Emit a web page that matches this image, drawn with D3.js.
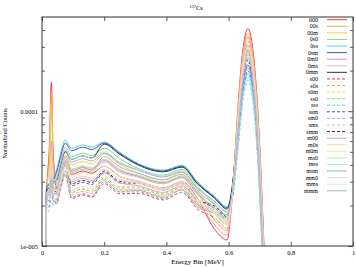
<!DOCTYPE html>
<html>
<head>
<meta charset="utf-8">
<script src="https://cdn.jsdelivr.net/npm/d3@7"></script>
<style>
body { margin: 0; background: #fff; }
text { font-family: "Liberation Serif", "DejaVu Serif", serif; fill: #000; }
</style>
</head>
<body>
<svg id="chart" width="356" height="267"></svg>
<script>
// energy bins [MeV]
var energy = [0.010, 0.015, 0.024, 0.030, 0.036, 0.048, 0.060, 0.075, 0.095, 0.130, 0.160, 0.200, 0.250, 0.310,
              0.390, 0.450, 0.500, 0.555, 0.595, 0.617, 0.632, 0.647, 0.662, 0.677, 0.692, 0.707, 0.717, 0.727];

// normalized counts, in units of 1e-5
var c000 = [0.5, 2.3, 5.7, 16.4, 4.9, 2.67, 3.44, 4.3, 3.4, 3.6, 3.47, 3.9, 3.28, 3.02, 2.7, 3.0, 2.25, 1.33, 1.11, 3.57, 12.4, 29.9, 41, 29.9, 11.9, 2.46, 0.62, 0.1];
var c00s = [0.5, 2.4, 4.9, 14, 4.2, 2.91, 3.76, 4.7, 3.7, 3.92, 3.77, 4.4, 3.7, 3.25, 2.9, 3.3, 2.48, 1.56, 1.3, 3.58, 11.7, 27.7, 38, 27.7, 11.0, 2.28, 0.57, 0.1];
var c00m = [0.5, 2.5, 4.0, 11.5, 3.45, 3.1, 4.0, 5.0, 4.0, 4.24, 4.08, 4.8, 4.03, 3.47, 3.1, 3.5, 2.63, 1.74, 1.45, 3.55, 10.9, 25.6, 35, 25.6, 10.2, 2.1, 0.53, 0.1];
var c0s0 = [0.5, 2.7, 2.84, 3.4, 3.1, 3.35, 4.32, 5.4, 4.6, 4.88, 4.69, 5.3, 4.45, 3.75, 3.35, 3.7, 2.78, 2.04, 1.7, 3.44, 9.26, 21.2, 29, 21.2, 8.4, 1.74, 0.44, 0.1];
var c0ss = [0.5, 2.8, 2.94, 3.3, 3.22, 3.78, 4.88, 6.1, 5.3, 5.62, 5.41, 5.9, 4.96, 4.09, 3.65, 3.98, 2.99, 2.34, 1.95, 3.09, 6.49, 13.9, 19, 13.9, 5.51, 1.14, 0.29, 0.1];
var c0sm = [0.5, 2.75, 2.89, 3.2, 3.16, 3.6, 4.64, 5.8, 5.1, 5.41, 5.2, 5.8, 4.87, 4.03, 3.6, 3.9, 2.93, 2.3, 1.92, 3.24, 7.34, 16.1, 22, 16.1, 6.38, 1.32, 0.33, 0.1];
var c0m0 = [0.5, 2.3, 2.42, 4.1, 2.65, 2.79, 3.6, 4.5, 3.6, 3.82, 3.67, 4.3, 3.61, 3.3, 2.95, 3.25, 2.44, 1.86, 1.55, 3.41, 9.77, 22.6, 31, 22.6, 8.99, 1.86, 0.47, 0.1];
var c0ms = [0.5, 2.4, 2.52, 3.0, 2.76, 2.6, 3.36, 4.2, 3.5, 3.71, 3.57, 4.2, 3.53, 3.25, 2.9, 3.2, 2.4, 1.92, 1.6, 3.22, 8.63, 19.7, 27, 19.7, 7.83, 1.62, 0.41, 0.1];
var c0mm = [0.5, 2.6, 2.73, 3.3, 2.99, 3.1, 4.0, 5.0, 4.4, 4.66, 4.49, 5.7, 4.79, 3.98, 3.55, 3.85, 2.89, 2.26, 1.88, 3.56, 9.06, 20.4, 28, 20.4, 8.12, 1.68, 0.42, 0.1];
var cs00 = [0.5, 1.9, 2.0, 3.0, 2.19, 2.11, 2.72, 3.4, 2.25, 2.39, 2.3, 2.9, 2.44, 2.46, 2.2, 2.5, 1.88, 1.62, 1.35, 3.33, 10.3, 24.1, 33, 24.1, 9.57, 1.98, 0.5, 0.1];
var cs0s = [0.5, 2.0, 2.1, 3.0, 2.3, 2.23, 2.88, 3.6, 2.4, 2.54, 2.45, 3.1, 2.6, 2.58, 2.3, 2.6, 1.95, 1.74, 1.45, 3.25, 9.43, 21.9, 30, 21.9, 8.7, 1.8, 0.45, 0.1];
var cs0m = [0.5, 2.1, 2.21, 3.1, 2.42, 2.36, 3.04, 3.8, 2.6, 2.76, 2.65, 3.3, 2.77, 2.74, 2.45, 2.75, 2.06, 1.8, 1.5, 3.18, 8.87, 20.4, 28, 20.4, 8.12, 1.68, 0.42, 0.1];
var css0 = [0.5, 2.0, 2.1, 2.9, 2.3, 2.23, 2.88, 3.6, 2.5, 2.65, 2.55, 3.2, 2.69, 2.69, 2.4, 2.7, 2.03, 1.86, 1.55, 2.99, 7.74, 17.5, 24, 17.5, 6.96, 1.44, 0.36, 0.1];
var csss = [0.5, 1.75, 1.84, 2.6, 2.01, 2.17, 2.8, 3.5, 2.3, 2.44, 2.35, 3.0, 2.52, 2.52, 2.25, 2.5, 2.0, 1.75, 1.6, 2.62, 5.73, 12.4, 17, 12.4, 4.93, 1.02, 0.26, 0.1];
var cssm = [0.5, 2.1, 2.21, 3.0, 2.42, 2.48, 3.2, 4.0, 2.8, 2.97, 2.86, 3.5, 2.94, 2.91, 2.6, 2.9, 2.18, 1.92, 1.6, 2.8, 6.6, 14.6, 20, 14.6, 5.8, 1.2, 0.3, 0.1];
var csm0 = [0.5, 1.9, 2.0, 2.9, 2.19, 2.05, 2.64, 3.3, 2.3, 2.44, 2.35, 3.0, 2.52, 2.58, 2.3, 2.6, 1.95, 1.74, 1.45, 3.01, 8.27, 19.0, 26, 19.0, 7.54, 1.56, 0.39, 0.1];
var csms = [0.5, 2.0, 2.1, 2.9, 2.3, 2.17, 2.8, 3.5, 2.5, 2.65, 2.55, 3.1, 2.6, 2.63, 2.35, 2.65, 1.99, 1.8, 1.5, 2.88, 7.42, 16.8, 23, 16.8, 6.67, 1.38, 0.35, 0.1];
var csmm = [0.5, 2.2, 2.31, 3.2, 2.53, 2.54, 3.28, 4.1, 2.9, 3.07, 2.96, 3.6, 3.02, 2.97, 2.65, 2.95, 2.21, 1.98, 1.65, 3.09, 7.79, 17.5, 24, 17.5, 6.96, 1.44, 0.36, 0.1];
var cm00 = [0.5, 2.2, 2.6, 6.0, 2.7, 2.42, 3.12, 3.9, 3.0, 3.18, 3.06, 3.5, 2.94, 2.8, 2.5, 2.8, 2.1, 1.44, 1.2, 3.36, 11.0, 26.3, 36, 26.3, 10.4, 2.16, 0.54, 0.1];
var cm0s = [0.5, 2.3, 2.6, 5.0, 2.7, 2.54, 3.28, 4.1, 3.1, 3.29, 3.16, 3.7, 3.11, 2.91, 2.6, 2.9, 2.18, 1.62, 1.35, 3.33, 10.3, 24.1, 33, 24.1, 9.57, 1.98, 0.5, 0.1];
var cm0m = [0.5, 2.3, 2.5, 4.2, 2.65, 2.67, 3.44, 4.3, 3.3, 3.5, 3.37, 3.9, 3.28, 3.02, 2.7, 3.0, 2.25, 1.74, 1.45, 3.25, 9.43, 21.9, 30, 21.9, 8.7, 1.8, 0.45, 0.1];
var cms0 = [0.5, 2.4, 2.52, 3.3, 2.76, 2.85, 3.68, 4.6, 3.7, 3.92, 3.77, 4.4, 3.7, 3.36, 3.0, 3.3, 2.48, 1.92, 1.6, 3.16, 8.34, 19.0, 26, 19.0, 7.54, 1.56, 0.39, 0.1];
var cmss = [0.5, 2.5, 2.63, 3.2, 2.88, 3.29, 4.24, 5.3, 4.4, 4.66, 4.49, 5.0, 4.2, 3.7, 3.3, 3.6, 2.7, 2.16, 1.8, 2.88, 6.12, 13.1, 18, 13.1, 5.22, 1.08, 0.27, 0.1];
var cmsm = [0.5, 2.5, 2.63, 3.2, 2.88, 3.16, 4.08, 5.1, 4.2, 4.45, 4.28, 4.9, 4.12, 3.64, 3.25, 3.55, 2.66, 2.14, 1.78, 3.04, 6.98, 15.3, 21, 15.3, 6.09, 1.26, 0.32, 0.1];
var cmm0 = [0.5, 2.1, 2.21, 3.8, 2.42, 2.42, 3.12, 3.9, 3.1, 3.29, 3.16, 3.7, 3.11, 2.97, 2.65, 2.95, 2.21, 1.8, 1.5, 3.18, 8.87, 20.4, 28, 20.4, 8.12, 1.68, 0.42, 0.1];
var cmms = [0.5, 2.2, 2.31, 3.0, 2.53, 2.36, 3.04, 3.8, 3.1, 3.29, 3.16, 3.7, 3.11, 2.97, 2.65, 2.95, 2.21, 1.86, 1.55, 3.05, 8.03, 18.3, 25, 18.3, 7.25, 1.5, 0.38, 0.1];
var cmmm = [0.5, 2.3, 2.42, 3.1, 2.65, 2.67, 3.44, 4.3, 3.6, 3.82, 3.67, 4.6, 3.86, 3.47, 3.1, 3.4, 2.55, 2.04, 1.7, 3.2, 8.1, 18.3, 25, 18.3, 7.25, 1.5, 0.38, 0.1];

var names = ["000","00s","00m","0s0","0ss","0sm","0m0","0ms","0mm",
             "s00","s0s","s0m","ss0","sss","ssm","sm0","sms","smm",
             "m00","m0s","m0m","ms0","mss","msm","mm0","mms","mmm"];
var counts = [c000,c00s,c00m,c0s0,c0ss,c0sm,c0m0,c0ms,c0mm,
              cs00,cs0s,cs0m,css0,csss,cssm,csm0,csms,csmm,
              cm00,cm0s,cm0m,cms0,cmss,cmsm,cmm0,cmms,cmmm];

var xTicks = [0, 0.2, 0.4, 0.6, 0.8, 1];
var yTicks = [1e-5, 1e-4];
var yTickLabels = ["1e-005", "0.0001"];
var yMinor = [2e-5,3e-5,4e-5,5e-5,6e-5,7e-5,8e-5,9e-5,2e-4,3e-4,4e-4];

var brightCols = ["#e43f4c","#f4a64c","#eed14c","#80d880","#4cd6df","#4a4ec6","#d98ad9","#c6c6c6","#333333"];
var paleCols   = ["#eaa0b6","#fbd6a6","#f6eaa6","#b4eab4","#a6ecef","#a8a8e2","#efc6ef","#e2e2e2","#b6b6b6"];

var W = 356, H = 267;
var m = {left: 42, right: 353, top: 17, bottom: 246};

var svg = d3.select('#chart');

var x = d3.scaleLinear().domain([0, 1]).range([m.left, m.right]);
var y = d3.scaleLog().domain([1e-5, 5e-4]).range([m.bottom, m.top]);

svg.append('defs').append('clipPath').attr('id', 'plotclip')
  .append('rect')
  .attr('x', m.left).attr('y', m.top)
  .attr('width', m.right - m.left).attr('height', m.bottom - m.top);

var line = d3.line()
  .x(function(d){ return x(d[0]); })
  .y(function(d){ return y(d[1] * 1e-5); })
  .curve(d3.curveMonotoneX);

var styleOf = function(i){
  var g = Math.floor(i / 9), k = i % 9;
  return {
    color: g === 2 ? paleCols[k] : brightCols[k],
    dash: g === 1 ? '3,2' : null
  };
};

var plot = svg.append('g').attr('clip-path', 'url(#plotclip)');
names.forEach(function(n, i){
  var st = styleOf(i);
  var pts = energy.map(function(e, j){ return [e, counts[i][j]]; });
  plot.append('path')
    .attr('d', line(pts))
    .attr('fill', 'none')
    .attr('stroke', st.color)
    .attr('stroke-width', 1)
    .attr('stroke-dasharray', st.dash);
});

// axes, gnuplot style: ticks inside, mirrored
var xb = svg.append('g').attr('transform', 'translate(0,' + m.bottom + ')')
  .call(d3.axisBottom(x).tickValues(xTicks).tickSize(-4).tickPadding(4).tickFormat(d3.format('')));
var xt = svg.append('g').attr('transform', 'translate(0,' + m.top + ')')
  .call(d3.axisTop(x).tickValues(xTicks).tickSize(-4).tickFormat(''));
var yl = svg.append('g').attr('transform', 'translate(' + m.left + ',0)')
  .call(d3.axisLeft(y).tickValues(yTicks).tickSize(-5).tickPadding(4)
    .tickFormat(function(d, i){ return yTickLabels[i]; }));
var ylm = svg.append('g').attr('transform', 'translate(' + m.left + ',0)')
  .call(d3.axisLeft(y).tickValues(yMinor).tickSize(-3).tickFormat(''));
var yr = svg.append('g').attr('transform', 'translate(' + m.right + ',0)')
  .call(d3.axisRight(y).tickValues(yTicks).tickSize(-5).tickFormat(''));
var yrm = svg.append('g').attr('transform', 'translate(' + m.right + ',0)')
  .call(d3.axisRight(y).tickValues(yMinor).tickSize(-3).tickFormat(''));

[xb, xt, yl, ylm, yr, yrm].forEach(function(a){
  a.select('.domain').remove();
  a.selectAll('line').attr('stroke', '#333').attr('stroke-width', 0.8);
  a.selectAll('text').style('font-family', '"Liberation Serif", serif').style('font-size', '6.5px').attr('fill', '#000');
});

svg.append('rect')
  .attr('x', m.left).attr('y', m.top)
  .attr('width', m.right - m.left).attr('height', m.bottom - m.top)
  .attr('fill', 'none').attr('stroke', '#333').attr('stroke-width', 1);

// title
var title = svg.append('text').attr('x', 196).attr('y', 10).attr('text-anchor', 'middle').style('font-size', '6.5px');
title.append('tspan').text('137').style('font-size', '4.5px').attr('dy', -2.5);
title.append('tspan').text('Cs').attr('dy', 2.5);

svg.append('text')
  .attr('transform', 'translate(7,' + ((m.top + m.bottom) / 2 + 2) + ') rotate(-90)')
  .attr('text-anchor', 'middle').style('font-size', '6.5px')
  .text('Normalized Counts');

svg.append('text')
  .attr('x', (m.left + m.right) / 2).attr('y', 264)
  .attr('text-anchor', 'middle').style('font-size', '7px')
  .text('Energy Bin [MeV]');

// legend
var legend = svg.append('g');
names.forEach(function(n, i){
  var st = styleOf(i);
  var ly = 19.7 + i * 6.58;
  legend.append('text')
    .attr('x', 318).attr('y', ly + 2)
    .attr('text-anchor', 'end').style('font-size', '6px')
    .text(n);
  legend.append('line')
    .attr('x1', 327).attr('x2', 347).attr('y1', ly).attr('y2', ly)
    .attr('stroke', st.color).attr('stroke-width', 1)
    .attr('stroke-dasharray', st.dash);
});
</script>
</body>
</html>
